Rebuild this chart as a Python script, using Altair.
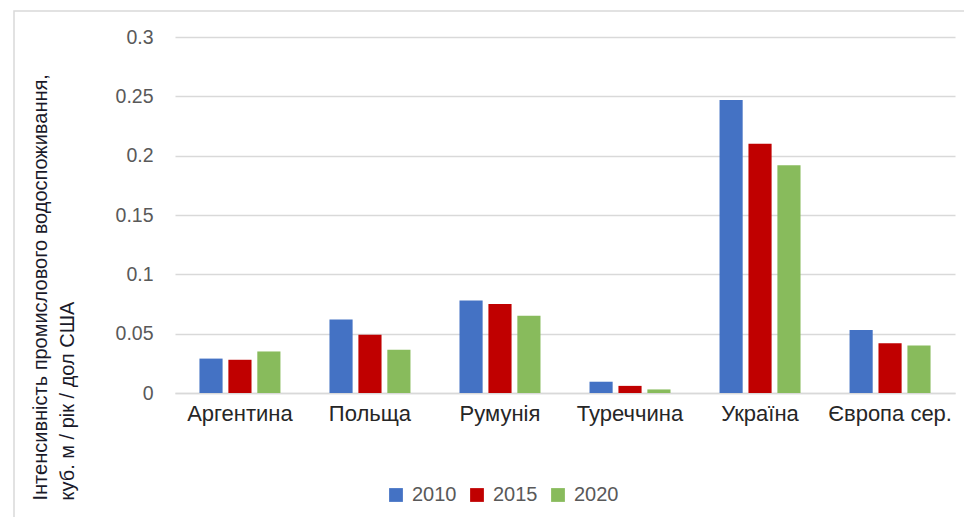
import altair as alt
import pandas as pd

countries = ["Аргентина", "Польща", "Румунія", "Туреччина", "Україна", "Європа сер."]
years = ["2010", "2015", "2020"]
v2010 = [0.029, 0.062, 0.078, 0.0095, 0.247, 0.053]
v2015 = [0.028, 0.049, 0.075, 0.006, 0.210, 0.042]
v2020 = [0.035, 0.0365, 0.065, 0.003, 0.192, 0.040]
colors = ["#4472C4", "#C00000", "#88BB5C"]
y_ticks = [0, 0.05, 0.1, 0.15, 0.2, 0.25, 0.3]

rows = []
for series, yr in zip([v2010, v2015, v2020], years):
    for c, v in zip(countries, series):
        rows.append({"country": c, "year": yr, "value": v})
df = pd.DataFrame(rows)

FONT = "Liberation Sans"

bars = alt.Chart(df).mark_bar().encode(
    x=alt.X("country:N", sort=countries,
            scale=alt.Scale(paddingInner=0.377, paddingOuter=0.188),
            axis=alt.Axis(title=None, labelAngle=0, labelFontSize=22, labelColor="#262626",
                          labelFont=FONT, labelPadding=10, ticks=False, tickSize=0,
                          domainColor="#D9D9D9", domainWidth=1.5, grid=False)),
    xOffset=alt.XOffset("year:N", sort=years, scale=alt.Scale(paddingInner=0.2, paddingOuter=0)),
    y=alt.Y("value:Q",
            scale=alt.Scale(domain=[0, 0.3], nice=False),
            axis=alt.Axis(values=y_ticks, format="~g", labelFontSize=19.5, labelColor="#595959",
                          labelFont=FONT, labelPadding=22, ticks=False, tickSize=0, domain=False,
                          gridColor="#D9D9D9", gridWidth=1.5,
                          title=["Інтенсивність промислового водоспоживання,", "куб. м / рік / дол США"],
                          titleFont=FONT, titleFontSize=20, titleFontWeight="normal",
                          titleColor="#1a1a2a", titleAngle=270, titleAlign="left",
                          titleBaseline="top", titleX=-145, titleY=463, titleLineHeight=27)),
    color=alt.Color("year:N", sort=years,
                    scale=alt.Scale(domain=years, range=colors),
                    legend=alt.Legend(title=None, orient="none", direction="horizontal",
                                      legendX=211, legendY=448, symbolType="square",
                                      symbolSize=190, symbolStrokeWidth=0, labelFontSize=20,
                                      labelColor="#595959", labelFont=FONT, labelOffset=6,
                                      columnPadding=10)),
)

frame = alt.Chart(alt.Data(values=[{}])).mark_rect(
    fillOpacity=0, stroke="#D9D9D9", strokeWidth=1.5
).encode(
    x=alt.value(-161), y=alt.value(-26), x2=alt.value(850), y2=alt.value(540)
)

chart = alt.layer(bars, frame).properties(
    width=780, height=356,
    autosize=alt.AutoSizeParams(type="none"),
    padding={"left": 167, "top": 29, "right": 9, "bottom": 124},
).configure_view(stroke=None)

chart.save("out.html", embed_options={"renderer": "svg", "actions": False})
